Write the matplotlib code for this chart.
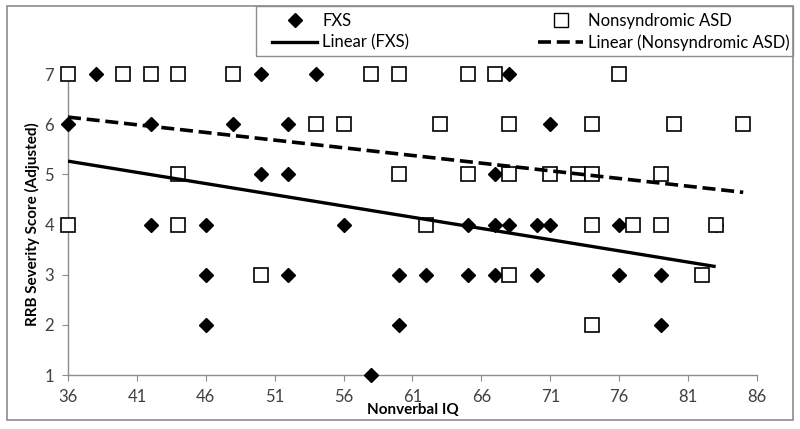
import matplotlib.pyplot as plt
from matplotlib.lines import Line2D
from matplotlib.patches import Rectangle
import numpy as np

plt.rcParams['font.family'] = ['Lato', 'DejaVu Sans']

# FXS: Nonverbal IQ and RRB severity score
fxs_iq = [38, 50, 54, 68,
          36, 42, 48, 52, 71,
          50, 52, 67,
          42, 46, 56, 65, 67, 68, 70, 71, 76, 83,
          46, 52, 60, 62, 65, 67, 70, 76, 79,
          46, 60, 79,
          58]
fxs_rrb = [7, 7, 7, 7,
           6, 6, 6, 6, 6,
           5, 5, 5,
           4, 4, 4, 4, 4, 4, 4, 4, 4, 4,
           3, 3, 3, 3, 3, 3, 3, 3, 3,
           2, 2, 2,
           1]

# Nonsyndromic ASD
asd_iq = [36, 40, 42, 44, 48, 58, 60, 65, 67, 76,
          54, 56, 63, 68, 74, 80, 85,
          44, 60, 65, 68, 71, 73, 74, 79,
          36, 44, 62, 74, 77, 79, 83,
          50, 68, 82,
          74]
asd_rrb = [7, 7, 7, 7, 7, 7, 7, 7, 7, 7,
           6, 6, 6, 6, 6, 6, 6,
           5, 5, 5, 5, 5, 5, 5, 5,
           4, 4, 4, 4, 4, 4, 4,
           3, 3, 3,
           2]

x_ticks = [36, 41, 46, 51, 56, 61, 66, 71, 76, 81, 86]
y_ticks = [1, 2, 3, 4, 5, 6, 7]

fig = plt.figure(figsize=(8, 4.29), dpi=100)
ax = fig.add_axes([68 / 800, 1 - 375 / 429, 689 / 800, 301 / 429])

ax.plot(fxs_iq, fxs_rrb, 'D', color='black', ms=6.8, mec='black',
        clip_on=False, zorder=3)
ax.plot(asd_iq, asd_rrb, 's', mfc='white', mec='black', mew=1.2, ms=10,
        clip_on=False, zorder=4)

# Linear trend lines (least squares, over the x range of each group)
k1, b1 = np.polyfit(fxs_iq, fxs_rrb, 1)
xs1 = np.array([min(fxs_iq), max(fxs_iq)])
ax.plot(xs1, k1 * xs1 + b1, '-', color='black', lw=2.4, zorder=5,
        solid_capstyle='butt')
k2, b2 = np.polyfit(asd_iq, asd_rrb, 1)
xs2 = np.array([min(asd_iq), max(asd_iq)])
ax.plot(xs2, k2 * xs2 + b2, color='black', lw=2.6, dashes=(3.6, 1.6),
        zorder=5)

ax.set_xlim(36, 86)
ax.set_ylim(1, 7)
ax.set_xticks(x_ticks)
ax.set_yticks(y_ticks)
for s in ['top', 'right']:
    ax.spines[s].set_visible(False)
for s in ['left', 'bottom']:
    ax.spines[s].set_color('#8c8c8c')
    ax.spines[s].set_linewidth(1)
ax.tick_params(direction='out', length=4, color='#8c8c8c', labelsize=12,
               labelcolor='#404040')
ax.tick_params(axis='x', pad=6)
ax.tick_params(axis='y', pad=6)

ax.set_xlabel('Nonverbal IQ', fontsize=11, fontweight='bold')
ax.xaxis.set_label_coords(0.5, -0.094)
ax.set_ylabel('RRB Severity Score (Adjusted)', fontsize=11, fontweight='bold')
ax.yaxis.set_label_coords(-0.041, 0.5)

handles = [
    Line2D([], [], ls='none', marker='D', color='black', ms=6.8),
    Line2D([], [], color='black', lw=2.4),
    Line2D([], [], ls='none', marker='s', mfc='white', mec='black', ms=10),
    Line2D([], [], color='black', lw=2.6, dashes=(3.6, 1.6)),
]
labels = ['FXS', 'Linear (FXS)', 'Nonsyndromic ASD',
          'Linear (Nonsyndromic ASD)']
leg = fig.legend(handles, labels, ncol=2, loc='center',
                 bbox_to_anchor=(272 / 800, 1 - 57 / 429, 518 / 800, 50 / 429),
                 mode='expand', fontsize=12, frameon=False,
                 handlelength=2.7, handletextpad=0.3,
                 borderaxespad=0, borderpad=0, labelspacing=0.3,
                 columnspacing=1.0)

# legend box and outer chart border
fig.patches.append(Rectangle((256 / 800, 1 - 56 / 429), 537 / 800, 50 / 429,
                             transform=fig.transFigure, fill=False,
                             edgecolor='#8c8c8c', lw=1))
fig.patches.append(Rectangle((7 / 800, 1 - 420 / 429), 786 / 800, 414 / 429,
                             transform=fig.transFigure, fill=False,
                             edgecolor='#8c8c8c', lw=1.2))

plt.savefig('out.png', dpi=100)
